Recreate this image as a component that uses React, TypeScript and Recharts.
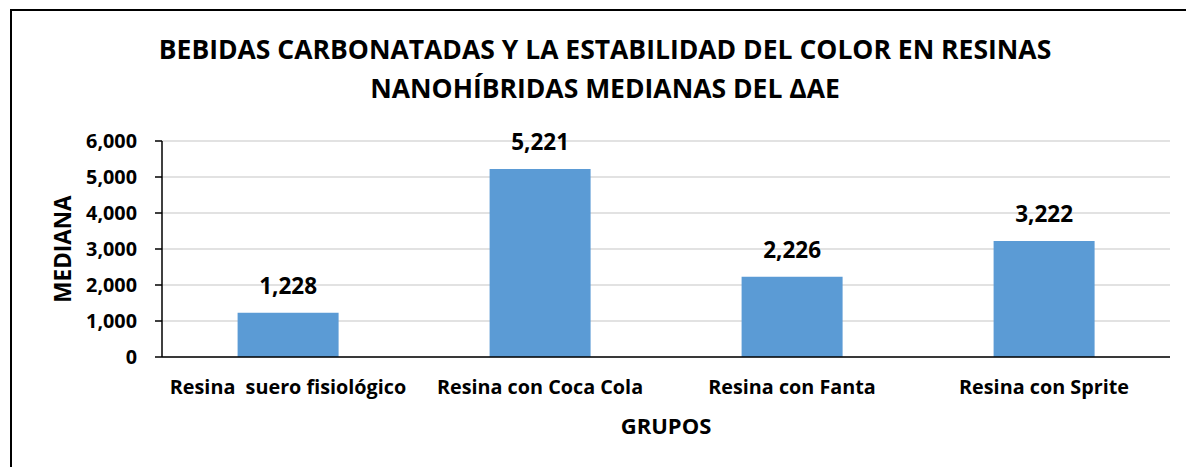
import { BarChart, Bar, XAxis, YAxis, CartesianGrid, LabelList, Label } from 'recharts'

const GROUPS = ['Resina\u00a0 suero fisiológico', 'Resina con Coca Cola', 'Resina con Fanta', 'Resina con Sprite']
const MEDIANS = [1228, 5221, 2226, 3222]
const Y_TICKS = [0, 1000, 2000, 3000, 4000, 5000, 6000]
const TITLE_LINES = ['BEBIDAS CARBONATADAS Y LA ESTABILIDAD DEL COLOR EN RESINAS', 'NANOHÍBRIDAS MEDIANAS DEL ΔAE']

const FONT = '"Open Sans", Lato, sans-serif'
const BLUE = '#5b9bd5'

const fmt = (v: number) => v.toLocaleString('en-US')

export default function App() {
  const data = GROUPS.map((g, i) => ({ group: g, value: MEDIANS[i] }))

  return (
    <div style={{ position: 'absolute', left: 0, top: 0, width: 1186, height: 467, background: '#fff', fontFamily: FONT }}>
      <div
        style={{
          position: 'absolute',
          left: 10,
          top: 9,
          width: 1200,
          height: 480,
          borderLeft: '2px solid #000',
          borderTop: '2px solid #000',
        }}
      />
      <div
        style={{
          position: 'absolute',
          left: 24,
          top: 30,
          width: 1162,
          textAlign: 'center',
          fontSize: 26.5,
          fontWeight: 700,
          lineHeight: '39px',
          color: '#000',
          whiteSpace: 'nowrap',
        }}
      >
        {TITLE_LINES.map((t) => (
          <div key={t}>{t}</div>
        ))}
      </div>

      <BarChart
        width={1186}
        height={467}
        data={data}
        margin={{ top: 141, right: 16, bottom: 30, left: 62 }}
        barCategoryGap="30%"
        style={{ position: 'absolute', left: 0, top: 0 }}
      >
        <CartesianGrid stroke="#d9d9d9" strokeWidth={1.5} vertical={false} />
        <XAxis
          dataKey="group"
          height={80}
          axisLine={{ stroke: '#000', strokeWidth: 1.5 }}
          tickLine={false}
          tickSize={0}
          tickMargin={23}
          interval={0}
          tick={{ fontSize: 19.8, fontWeight: 700, fill: '#000', fontFamily: FONT }}
        >
          <Label
            value="GRUPOS"
            position="insideBottom"
            offset={3}
            style={{ fontSize: 22, fontWeight: 700, fill: '#000', fontFamily: FONT }}
          />
        </XAxis>
        <YAxis
          width={100}
          domain={[0, 6000]}
          ticks={Y_TICKS}
          tickFormatter={fmt}
          axisLine={{ stroke: '#000', strokeWidth: 1.5 }}
          tickLine={{ stroke: '#000', strokeWidth: 1.5 }}
          tickSize={7}
          tickMargin={18}
          tick={{ fontSize: 19.8, fontWeight: 700, fill: '#000', fontFamily: FONT }}
        >
          <Label
            value="MEDIANA"
            content={({ viewBox }: any) => {
              const cy = viewBox.y + viewBox.height / 2
              return (
                <text
                  x={62}
                  y={cy}
                  transform={`rotate(-90, 62, ${cy})`}
                  textAnchor="middle"
                  dominantBaseline="central"
                  style={{ fontSize: 22.5, fontWeight: 700, fill: '#000', fontFamily: FONT }}
                >
                  MEDIANA
                </text>
              )
            }}
          />
        </YAxis>
        <Bar dataKey="value" fill={BLUE} isAnimationActive={false}>
          <LabelList
            dataKey="value"
            position="top"
            offset={19}
            formatter={(v: any) => fmt(Number(v))}
            style={{ fontSize: 22.5, fontWeight: 700, fill: '#000', fontFamily: FONT }}
          />
        </Bar>
      </BarChart>
    </div>
  )
}
